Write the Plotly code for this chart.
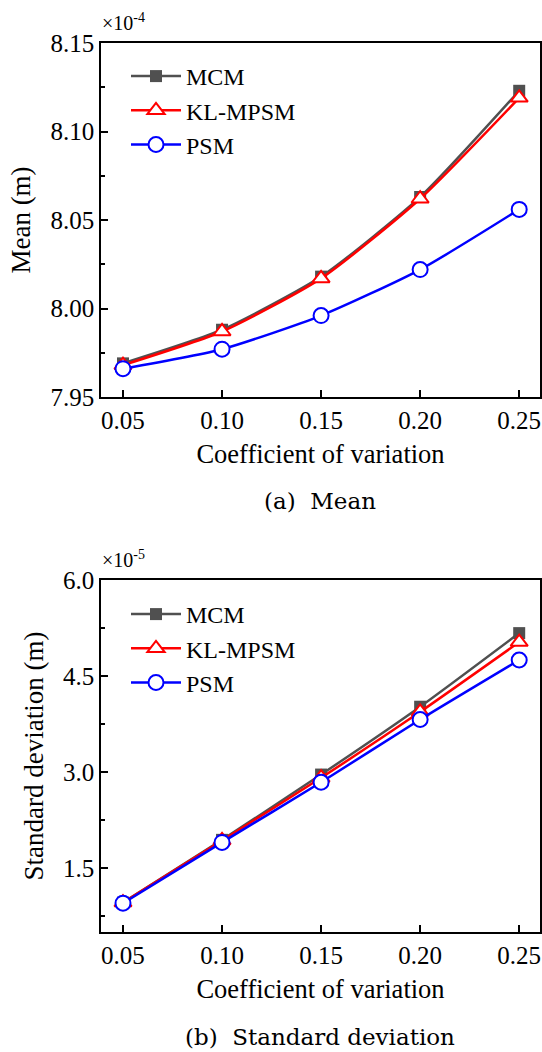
import plotly.graph_objects as go

cov = [0.05, 0.10, 0.15, 0.20, 0.25]
x_ticks = [0.05, 0.10, 0.15, 0.20, 0.25]
x_tick_labels = ["0.05", "0.10", "0.15", "0.20", "0.25"]

# Mean (x1e-4 m)
mean_mcm = [7.969, 7.988, 8.018, 8.063, 8.123]
mean_kl = [7.968, 7.987, 8.017, 8.062, 8.119]
mean_psm = [7.966, 7.977, 7.996, 8.022, 8.056]
mean_ticks = [7.95, 8.00, 8.05, 8.10, 8.15]
mean_tick_labels = ["7.95", "8.00", "8.05", "8.10", "8.15"]

# Standard deviation (x1e-5 m)
std_mcm = [0.96, 1.94, 2.96, 4.02, 5.17]
std_kl = [0.96, 1.93, 2.91, 3.94, 5.03]
std_psm = [0.95, 1.90, 2.84, 3.82, 4.75]
std_ticks = [1.5, 3.0, 4.5, 6.0]
std_tick_labels = ["1.5", "3.0", "4.5", "6.0"]

series_names = ["MCM", "KL-MPSM", "PSM"]

FONT = "Liberation Serif"
CAP_FONT = "DejaVu Serif"
W, H = 542, 1052

styles = [
    dict(color="#505050", symbol="square", fill="#505050", size=12),
    dict(color="#ff0000", symbol="triangle-up-open", fill="white", size=15),
    dict(color="#0000ff", symbol="circle-open", fill="white", size=15),
]

fig = go.Figure()

def add_series(ys, xa, ya, legend):
    for name, y, st in zip(series_names, ys, styles):
        sym = st["symbol"]
        marker = dict(symbol=sym.replace("-open", ""), size=st["size"], color=st["fill"],
                      line=dict(color=st["color"], width=2 if "open" in sym else 0))
        fig.add_trace(go.Scatter(
            x=cov, y=y, name=name, mode="lines+markers",
            line=dict(color=st["color"], width=2.5, shape="spline", smoothing=0.6),
            marker=marker, xaxis=xa, yaxis=ya, legend=legend,
        ))

add_series([mean_mcm, mean_kl, mean_psm], "x", "y", "legend")
add_series([std_mcm, std_kl, std_psm], "x2", "y2", "legend2")

def dom(top_px, bot_px):
    return [1 - bot_px / H, 1 - top_px / H]

x_common = dict(
    range=[0.0389, 0.2605], tickvals=x_ticks, ticktext=x_tick_labels,
    ticks="inside", ticklen=7, tickwidth=1.5, tickcolor="black",
    showline=True, linecolor="black", linewidth=1.5, mirror=True,
    showgrid=False, zeroline=False,
    tickfont=dict(family=FONT, size=25, color="black"),
    title=dict(text="Coefficient of variation", font=dict(family=FONT, size=26.5, color="black"), standoff=12),
    domain=[101 / W, 540 / W],
)
y_common = dict(
    ticks="inside", ticklen=7, tickwidth=1.5, tickcolor="black",
    minor=dict(ticks="inside", ticklen=4, tickwidth=1.5, tickcolor="black"),
    showline=True, linecolor="black", linewidth=1.5, mirror=True,
    showgrid=False, zeroline=False,
    tickfont=dict(family=FONT, size=25, color="black"),
)

legend_common = dict(xref="paper", yref="paper", xanchor="left", yanchor="top",
                     font=dict(family=FONT, size=24, color="black"), bgcolor="rgba(0,0,0,0)",
                     tracegroupgap=0, itemwidth=50)

fig.update_layout(
    width=W, height=H, margin=dict(l=0, r=0, t=0, b=0, autoexpand=False),
    plot_bgcolor="white", paper_bgcolor="white",
    xaxis=dict(**x_common, anchor="y"),
    xaxis2=dict(**x_common, anchor="y2"),
    yaxis=dict(**y_common, range=[7.95, 8.15], tickvals=mean_ticks, ticktext=mean_tick_labels,
               minor_tickvals=[7.975, 8.025, 8.075, 8.125],
               domain=dom(43, 397), anchor="x",
               title=dict(text="Mean (m)", font=dict(family=FONT, size=27, color="black"), standoff=12)),
    yaxis2=dict(**y_common, range=[0.5, 6.0], tickvals=std_ticks, ticktext=std_tick_labels,
                minor_tickvals=[0.75, 2.25, 3.75, 5.25],
                domain=dom(580, 932), anchor="x2",
                title=dict(text="Standard deviation (m)", font=dict(family=FONT, size=27, color="black"), standoff=12)),
    legend=dict(**legend_common, x=126 / W, y=1 - 54 / H),
    legend2=dict(**legend_common, x=126 / W, y=1 - 592 / H),
    showlegend=True,
)

fig.add_annotation(text="×10<sup>-4</sup>", x=100 / W, y=1 - 22 / H, xref="paper", yref="paper",
                   xanchor="left", yanchor="middle", showarrow=False,
                   font=dict(family=FONT, size=20, color="black"))
fig.add_annotation(text="×10<sup>-5</sup>", x=100 / W, y=1 - 559 / H, xref="paper", yref="paper",
                   xanchor="left", yanchor="middle", showarrow=False,
                   font=dict(family=FONT, size=20, color="black"))
fig.add_annotation(text="(a)  Mean", x=320 / W, y=1 - 501 / H, xref="paper", yref="paper",
                   xanchor="center", yanchor="middle", showarrow=False,
                   font=dict(family=CAP_FONT, size=23, color="black"))
fig.add_annotation(text="(b)  Standard deviation", x=320 / W, y=1 - 1037 / H, xref="paper", yref="paper",
                   xanchor="center", yanchor="middle", showarrow=False,
                   font=dict(family=CAP_FONT, size=23, color="black"))

fig.write_html("out.html", config={"displayModeBar": False},
               post_script="document.body.style.margin='0';document.body.style.overflow='hidden';")
